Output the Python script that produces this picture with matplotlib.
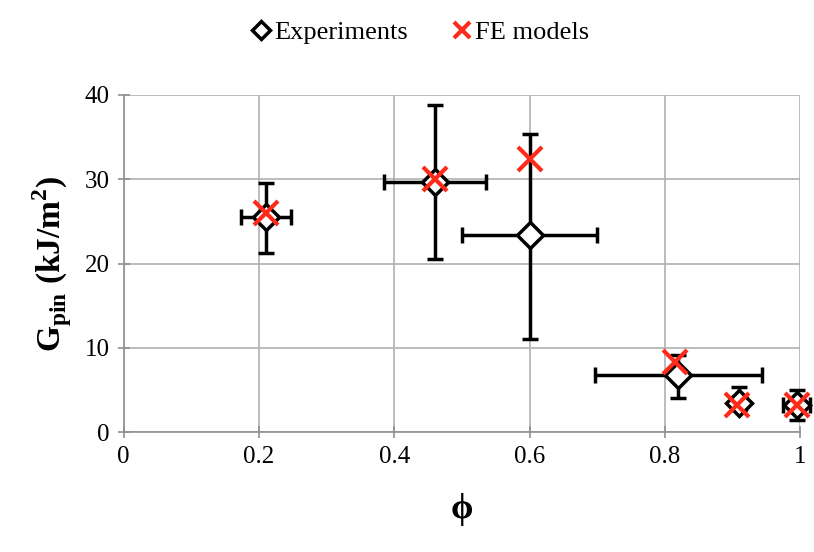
import matplotlib.pyplot as plt

# experiments
phi = [0.21, 0.46, 0.60, 0.82, 0.91, 0.995]
g_exp = [25.5, 29.7, 23.4, 6.8, 3.5, 3.2]
phi_err = [0.037, 0.075, 0.10, 0.123, 0.01, 0.02]
g_err_lo = [4.3, 9.2, 12.3, 2.7, 0.9, 1.8]
g_err_hi = [4.0, 9.1, 12.0, 2.3, 1.9, 1.8]

# FE models
phi_fe = [0.21, 0.46, 0.60, 0.815, 0.907, 0.995]
g_fe = [26.0, 30.0, 32.4, 8.3, 3.2, 3.2]

plt.rcParams['font.family'] = ['Liberation Serif', 'DejaVu Serif']
plt.rcParams['mathtext.fontset'] = 'custom'
plt.rcParams['mathtext.rm'] = 'Liberation Serif'
plt.rcParams['mathtext.bf'] = 'Liberation Serif:bold'

fig = plt.figure(figsize=(8.14, 5.52), dpi=100)
ax = fig.add_axes([0.152, 0.217, 0.831, 0.611])

ax.errorbar(phi, g_exp, xerr=phi_err, yerr=[g_err_lo, g_err_hi], fmt='none',
            ecolor='black', elinewidth=2.5, capsize=6, capthick=2.5, zorder=3,
            clip_on=False)
ax.plot(phi, g_exp, 'D', ms=13, mfc='white', mec='black', mew=2.5,
        label='Experiments', zorder=4, clip_on=False)
ax.plot(phi_fe, g_fe, 'x', ms=17, color='#ff2a1a', mew=3, label='FE models',
        zorder=5, clip_on=False)

ax.set_xlim(0, 1)
ax.set_ylim(0, 40)
ax.set_xticks([0, 0.2, 0.4, 0.6, 0.8, 1])
ax.set_xticklabels(['0', '0.2', '0.4', '0.6', '0.8', '1'])
ax.set_yticks([0, 10, 20, 30, 40])
ax.grid(True, color='#b0b0b0', linewidth=1.2)
ax.set_axisbelow(True)
for s in ['top', 'right']:
    ax.spines[s].set_visible(False)
for s in ['left', 'bottom']:
    ax.spines[s].set_color('#909090')
    ax.spines[s].set_linewidth(1.2)
ax.tick_params(direction='inout', length=8, width=1.2, color='#909090',
               labelsize=18, pad=6)

ax.set_xlabel('ϕ', fontsize=26, fontweight='bold', labelpad=18)
ax.set_ylabel(r'G$_{\mathbf{pin}}$ (kJ/m$^{\mathbf{2}}$)', fontsize=24,
              fontweight='bold', labelpad=8)

fig.legend(loc='upper center', bbox_to_anchor=(0.515, 1.005), ncol=2,
           frameon=False, fontsize=19, handletextpad=0.05, columnspacing=1.6,
           handlelength=0.9, markerscale=0.7)

fig.savefig('out.png', dpi=100)
